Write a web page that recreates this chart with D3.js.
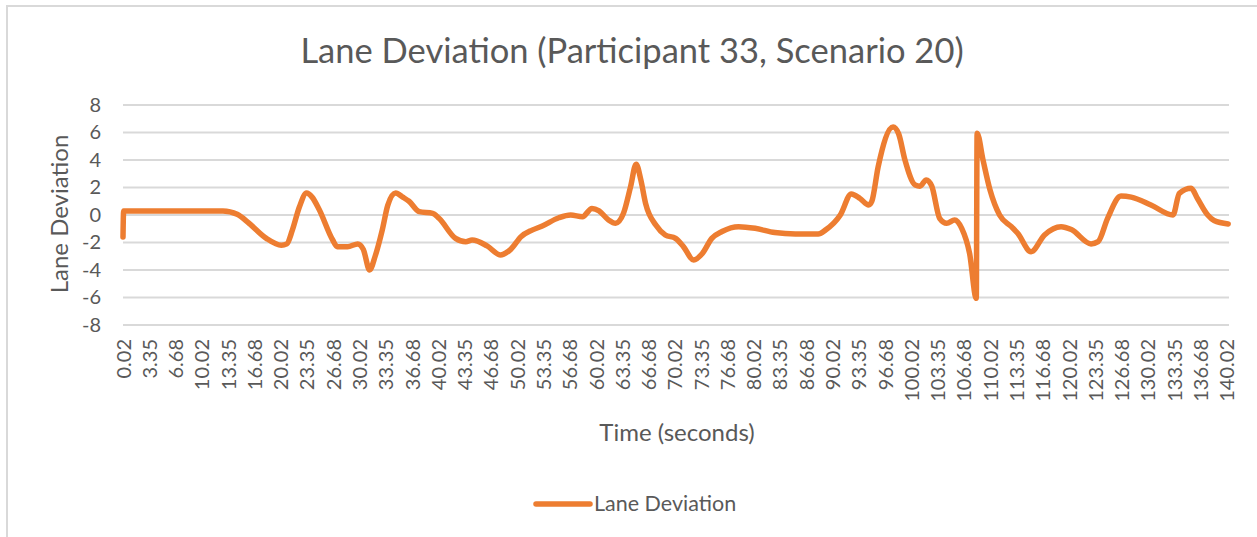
<!DOCTYPE html>
<html>
<head>
<meta charset="utf-8">
<script src="https://cdn.jsdelivr.net/npm/d3@7"></script>
<style>
    html, body { margin: 0; padding: 0; background: #fff; }
    svg text { font-family: Lato, "Open Sans", sans-serif; fill: #595959; }
</style>
</head>
<body>
<svg id="chart" width="1257" height="537"></svg>
<script>

/* Zeitpunkte (Sekunden) und Spurabweichung */
var times = [
    0.02, 0.1, 5, 10, 12.7, 14.5, 16, 18.2, 20.1, 20.8, 21.5, 22.4, 23.3, 24.0, 24.9,
    26.6, 27.2, 28.5, 29.8, 30.5, 31.3, 32.0, 32.9, 33.6, 34.6, 35.5, 36.3, 37.6, 39.3,
    40.1, 42.2, 43.5, 44.3, 46.2, 47.9, 49.2, 50.5, 51.9, 53.2, 55.3, 56.8, 58.3, 59.5,
    60.4, 61.6, 62.5, 63.5, 64.4, 65.1, 65.7, 66.3, 67.6, 68.8, 70.1, 71.1, 72.4, 73.5,
    74.7, 76.0, 78.1, 80.2, 82.7, 85.3, 88.2, 89.1, 91.0, 92.4, 93.5, 94.6, 95.0, 95.8,
    97.7, 98.4, 99.2, 100.5, 101.1, 101.9, 102.6, 103.6, 104.5, 105.5, 106.4, 107.4,
    108.25, 108.35, 109.1, 110.0, 111.2, 112.7, 113.5, 115.2, 116.9, 119.0, 120.3,
    122.8, 123.7, 124.9, 126.6, 127.9, 130.4, 133.2, 134.0, 135.5, 136.3, 137.6, 138.4, 140.2
];

var lane_deviation = [
    -1.6, 0.3, 0.3, 0.3, 0.3, 0.05, -0.6, -1.7, -2.2, -2.1, -1.1, 0.6, 1.6, 1.3, 0.4,
    -1.8, -2.3, -2.3, -2.1, -2.5, -4.0, -3.0, -1.1, 0.7, 1.6, 1.3, 1.0, 0.24, 0.12,
    -0.24, -1.7, -1.94, -1.82, -2.25, -2.9, -2.5, -1.58, -1.1, -0.8, -0.2, 0.0, -0.12, 0.48,
    0.3, -0.36, -0.6, 0.12, 2.06, 3.7, 2.55, 0.85, -0.73, -1.45, -1.7, -2.3, -3.27, -2.8,
    -1.7, -1.2, -0.85, -0.97, -1.28, -1.38, -1.38, -1.1, 0.0, 1.53, 1.2, 0.73, 1.0, 3.5,
    6.4, 5.9, 4.0, 2.18, 2.1, 2.55, 2.1, -0.24, -0.6, -0.36, -0.97, -2.8,
    -6.06, 5.94, 4.0, 1.8, 0.0, -0.85, -1.33, -2.67, -1.45, -0.85, -1.06,
    -2.1, -1.94, -0.24, 1.38, 1.3, 0.73, 0.0, 1.58, 1.94, 1.2, 0.0, -0.4, -0.65
];

/* Beschriftungen der X-Achse (Kategorien) */
var x_tick_labels = [
    "0.02", "3.35", "6.68", "10.02", "13.35", "16.68", "20.02", "23.35", "26.68", "30.02",
    "33.35", "36.68", "40.02", "43.35", "46.68", "50.02", "53.35", "56.68", "60.02", "63.35",
    "66.68", "70.02", "73.35", "76.68", "80.02", "83.35", "86.68", "90.02", "93.35", "96.68",
    "100.02", "103.35", "106.68", "110.02", "113.35", "116.68", "120.02", "123.35", "126.68",
    "130.02", "133.35", "136.68", "140.02"
];

var y_ticks = [-8, -6, -4, -2, 0, 2, 4, 6, 8];

var title_text   = "Lane Deviation (Participant 33, Scenario 20)";
var x_title_text = "Time (seconds)";
var y_title_text = "Lane Deviation";
var series_name  = "Lane Deviation";

var line_color = "#ED7D31";
var grid_color = "#D9D9D9";

var svg = d3.select("#chart");

/* Rahmen des Diagramms */
svg.append("rect")
    .attr("x", 7).attr("y", 6)
    .attr("width", 1300).attr("height", 600)
    .attr("fill", "none")
    .attr("stroke", grid_color)
    .attr("stroke-width", 2);

var x = d3.scaleLinear().domain([0.02, 140.3]).range([123, 1229]);
var y = d3.scaleLinear().domain([-8, 8]).range([325, 105]);

/* Gitterlinien */
svg.append("g")
    .selectAll("line")
    .data(y_ticks)
    .enter()
    .append("line")
    .attr("x1", 123).attr("x2", 1229)
    .attr("y1", function(d) { return y(d); })
    .attr("y2", function(d) { return y(d); })
    .attr("stroke", grid_color)
    .attr("stroke-width", 2);

/* Y-Achse (Bindestrich statt Minuszeichen wie in Excel) */
var y_axis = svg.append("g")
    .attr("transform", "translate(101,0)")
    .call(d3.axisLeft(y)
        .tickValues(y_ticks)
        .tickFormat(function(d) { return String(d); })
        .tickSize(0).tickPadding(0));
y_axis.select(".domain").remove();
y_axis.selectAll("text")
    .attr("font-size", "20px")
    .attr("fill", "#595959");

/* X-Achse: Kategorien rotiert */
var x_axis = svg.append("g")
    .attr("transform", "translate(0,339)")
    .call(d3.axisBottom(x)
        .tickValues(x_tick_labels.map(function(d) { return +d; }))
        .tickFormat(function(d, i) { return x_tick_labels[i]; })
        .tickSize(0).tickPadding(0));
x_axis.select(".domain").remove();
x_axis.selectAll("text")
    .attr("font-size", "20px")
    .attr("fill", "#595959")
    .attr("text-anchor", "end")
    .attr("transform", "rotate(-90)")
    .attr("x", 0)
    .attr("y", 0)
    .attr("dy", "0.35em");

/* Linie */
var line = d3.line()
    .x(function(d, i) { return x(times[i]); })
    .y(function(d) { return y(d); })
    .curve(d3.curveMonotoneX);

svg.append("path")
    .datum(lane_deviation)
    .attr("d", line)
    .attr("fill", "none")
    .attr("stroke", line_color)
    .attr("stroke-width", 5.5)
    .attr("stroke-linejoin", "round")
    .attr("stroke-linecap", "round");

/* Titel */
svg.append("text")
    .attr("x", 632).attr("y", 63)
    .attr("text-anchor", "middle")
    .attr("font-size", "34.5px")
    .text(title_text);

svg.append("text")
    .attr("transform", "translate(68,214) rotate(-90)")
    .attr("text-anchor", "middle")
    .attr("font-size", "24px")
    .text(y_title_text);

svg.append("text")
    .attr("x", 677).attr("y", 441)
    .attr("text-anchor", "middle")
    .attr("font-size", "24px")
    .text(x_title_text);

/* Legende */
svg.append("line")
    .attr("x1", 536).attr("x2", 590)
    .attr("y1", 504).attr("y2", 504)
    .attr("stroke", line_color)
    .attr("stroke-width", 5.5)
    .attr("stroke-linecap", "round");

svg.append("text")
    .attr("x", 594).attr("y", 511)
    .attr("font-size", "21.5px")
    .text(series_name);

</script>
</body>
</html>
